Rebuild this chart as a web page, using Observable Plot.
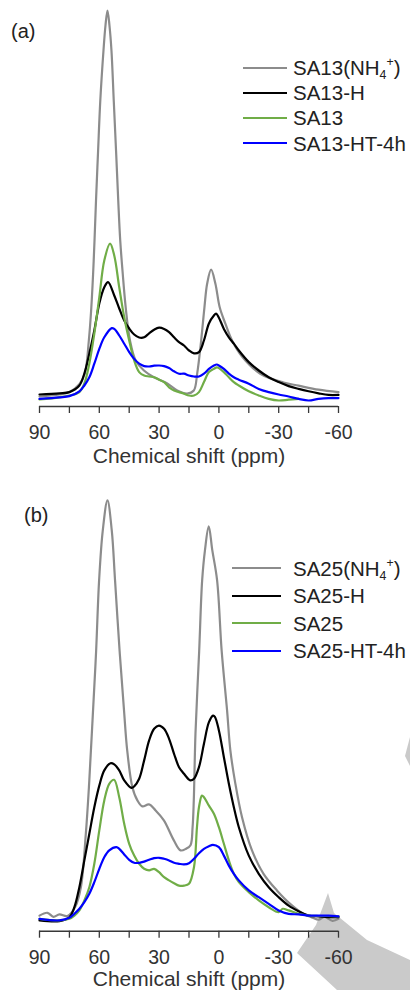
<!DOCTYPE html>
<html>
<head>
<meta charset="utf-8">
<script src="https://cdn.jsdelivr.net/npm/d3@7"></script>
<script src="https://cdn.jsdelivr.net/npm/@observablehq/plot@0.6"></script>
<style>
  html, body { margin: 0; padding: 0; background: #fff; }
  #root { position: relative; width: 410px; height: 990px; overflow: hidden;
          font-family: "Liberation Sans", Arial, sans-serif; }
  .wedge { position: absolute; left: 0; top: 0; width: 410px; height: 990px; background: #cacaca; }
  .panel { position: absolute; left: 0; }
  .tag { position: absolute; font-size: 20px; line-height: 20px; color: #222; }
  .legend { position: absolute; left: 0; top: 0; font-size: 20.5px; color: #222; }
  .row { position: absolute; height: 0; }
  .sw { position: absolute; left: 0; top: -1.2px; height: 0; border-top: 2.4px solid; }
  .lab { position: absolute; top: -9.8px; line-height: 20px; white-space: nowrap; }
  .lab .sub { font-size: 60%; vertical-align: -0.3em; line-height: 0; }
  .lab .sup { font-size: 60%; vertical-align: 0.75em; line-height: 0; }
</style>
</head>
<body>
<div id="root"></div>
<script>
// ---------- data (chemical shift in ppm, intensity in arbitrary units) ----------
const SHIFT_MAJOR = [90, 60, 30, 0, -30, -60];
const SHIFT_MINOR = [75, 45, 15, -15, -45];
const AXIS_TITLE = "Chemical shift (ppm)";
const PANEL_TAGS = ["(a)", "(b)"];

const seriesA = ["SA13(NH4+)", "SA13-H", "SA13", "SA13-HT-4h"];
const seriesB = ["SA25(NH4+)", "SA25-H", "SA25", "SA25-HT-4h"];
const seriesColors = ["#8c8c8c", "#000000", "#70ad47", "#0000ff"];

// panel (a)
const a_nh4 = [[90,2.5],[80,3.0],[75,3.6],[70,5.6],[67.25,8.25],[65.25,16.5],[64,24.75],[63.1,33.25],[62.4,41.5],[61.65,51.5],[60.6,64],[59.5,76.5],[57.9,89],[56.9,95.25],[55.9,99],[54.9,95.25],[53.9,89],[52.75,76.5],[51.6,64],[50.5,51.5],[49.5,41.5],[48.25,33.25],[46.75,24.75],[44.6,16.5],[41.75,11.5],[37.6,9],[32.6,7.3],[25.9,5.75],[20.9,4],[15.9,3.25],[12.6,4],[10.9,8.2],[8.9,16.5],[7.25,24.8],[5.9,30.7],[3.9,34.2],[1.75,30.7],[-0.4,24.8],[-3.25,20.7],[-6.6,16.5],[-11.6,12.5],[-20.75,8.2],[-32.4,6],[-40,5.2],[-50,4.2],[-60,3.6]];
const a_h = [[90,3.0],[80,3.3],[75,3.6],[70,5.25],[67.5,8.25],[65,13.25],[62.5,19],[60,25.75],[57.5,29.8],[55.6,31.1],[52.5,27.75],[50,24.5],[47.5,21.5],[45,19.5],[42.5,18],[40,17.25],[37.5,17.3],[35,18.3],[32.5,19.2],[30,19.7],[27.5,19.4],[25,18.6],[22.5,17.3],[20,16.1],[17.5,15.25],[15,14],[12.5,13.3],[10,13.6],[7.5,16.5],[5,20.75],[2.5,22.75],[1.4,23.2],[0,22.2],[-2.5,19.4],[-5,17.3],[-7.5,15.7],[-10,14],[-15,11.1],[-20,9],[-25,7.3],[-30,6.1],[-35,5.1],[-40,4.4],[-45,3.8],[-50,3.3],[-55,2.9],[-60,2.9]];
const a_na = [[90,1.75],[80,2.3],[75,2.75],[70,3.6],[67.5,5.75],[65,10.75],[62.5,18.25],[60,27.3],[57.5,36.5],[54.6,40.7],[52.5,37.75],[50,29.8],[47.5,22.3],[45,16.5],[42.5,11.5],[40,8.6],[37.5,7.75],[35,7.5],[32.5,7.3],[30,6.7],[27.5,6.1],[25,4.8],[22.5,4],[20,3.6],[17.5,3.2],[15,2.75],[12.5,2.75],[10,3.6],[7.5,6.1],[5,8.6],[2.5,9.4],[1,9.8],[0,9.6],[-2.5,8.6],[-5,7.3],[-7.5,6.1],[-10,5.25],[-15,3.8],[-20,2.75],[-25,1.9],[-30,1.5],[-35,1.7],[-40,1.9]];
const a_ht = [[90,1.9],[80,2.3],[75,2.6],[70,3.8],[67.5,5.25],[65,7.3],[62.5,10.7],[60,14.4],[57.5,17.3],[53.75,19.6],[52.5,19.4],[50,17.75],[47.5,15.7],[45,13.6],[42.5,11.9],[40,10.7],[37.5,10.1],[35,10],[32.5,10.2],[30,10.25],[27.5,10.1],[25,9.6],[22.5,8.8],[20,8.2],[17.5,8.2],[15,7.75],[12.5,7.5],[10,7.5],[7.5,8.2],[5,9.4],[2.5,10.25],[1,10.5],[0,10.25],[-2.5,9.4],[-5,8.2],[-7.5,7.3],[-10,6.7],[-15,5.7],[-20,4.4],[-25,3.6],[-30,3],[-35,2.5],[-40,1.9],[-45,1.5],[-50,1.9],[-55,2.1],[-60,2.1]];

// panel (b)
const b_nh4 = [[90,3.9],[86,4.6],[83,3.6],[80,4.2],[76,3.8],[72,6.2],[69.25,11],[66.75,24.4],[65.1,36.9],[63.4,52.7],[61.6,70],[60.1,87.7],[58.25,100.2],[55.9,107.7],[53.75,100.2],[52.1,87.7],[49.8,70],[47.6,55.2],[46,45.2],[43.4,36],[40.9,32.7],[38.4,31.2],[35.1,31.7],[31.75,30.2],[27.6,27.7],[22.6,22.7],[19.25,20.2],[16.5,20.6],[14.25,21.5],[13.2,26],[12.6,32.7],[11.75,49.4],[9.9,70],[8.4,87.7],[7,95.2],[5.1,101.2],[3.3,95.2],[0.9,87.7],[-1.4,70],[-4.1,55.2],[-5.75,45.2],[-8.25,36.9],[-11.6,28.5],[-16.6,20.2],[-22.4,14.35],[-29.1,10.2],[-35.75,6.85],[-42.4,4.35],[-47,3.4],[-50,2.9],[-53,3.6],[-57,2.6],[-60,3.1]];
const b_h = [[90,2.7],[80,2.5],[75,3.5],[72.5,6],[70,11],[67.5,17.7],[65,24.35],[62.5,31],[60,36.4],[57.5,40.2],[54.4,42],[52.5,41.7],[50,40.2],[47.5,37.7],[43.9,35.85],[42.5,36.2],[40,38.1],[37.5,42.7],[35,47.7],[32.5,50.6],[30.1,51.4],[27.5,50.6],[25,48.1],[22.5,44.35],[20,41],[17.5,39.35],[15,37.9],[14.25,37.7],[12.5,38.1],[10,41],[7.5,46.85],[5,52.25],[2.9,53.9],[2,53.6],[0,50.2],[-2.5,43.5],[-5,36.85],[-7.5,31],[-10,26],[-15,18.9],[-20,14.35],[-25,11],[-30,8.5],[-35,6.4],[-40,5],[-45,3.9],[-50,3.7],[-55,3.5],[-60,3.5]];
const b_na = [[90,3.1],[80,2.7],[75,3.1],[72.5,3.9],[70,5.2],[67.5,7.7],[65,11],[62.5,16.85],[60,25.2],[57.5,32.7],[55,36.85],[52.6,37.85],[50,33.5],[47.5,26.85],[45,21.85],[42.5,18.9],[40,16.85],[37.5,15.6],[35,15.2],[32.5,15.6],[30,14.75],[27.5,13.5],[25,12.7],[22.5,12],[20,11.4],[17.5,11.4],[15,11.85],[12.5,16],[11,26],[10,31],[8.5,33.9],[7.5,33.5],[5,31.4],[2.5,29.35],[0,26],[-2.5,21.85],[-5,17.7],[-7.5,14.35],[-10,12.25],[-15,9.75],[-20,7.7],[-25,6],[-30,4.75],[-32,5.6],[-35,5.2],[-40,4.35],[-45,3.9],[-50,3.8],[-55,3.8],[-60,3.7]];
const b_ht = [[90,3.1],[80,2.7],[75,3.35],[72.5,4.35],[70,5.6],[67.5,7.25],[65,9.35],[62.5,12.25],[60,15.6],[57.5,18.5],[55,20.2],[51.4,21],[50,20.6],[47.5,19.2],[45,17.85],[42.5,17.1],[40,17.1],[37.5,17.4],[35,17.85],[32.5,18.25],[30,18.35],[27.5,18.1],[25,17.7],[22.5,17.1],[20,16.85],[17.5,16.7],[15,17],[12.5,18.1],[10,19.5],[7.5,20.6],[5,21.25],[3,21.6],[0,21],[-2.5,18.9],[-5,16.4],[-7.5,14.35],[-10,12.7],[-15,10.2],[-20,8.5],[-25,6.85],[-30,5.2],[-35,4.35],[-40,4.2],[-45,3.9],[-50,3.9],[-55,3.9],[-60,3.7]];

// ---------- drawing ----------
const FONT = '"Liberation Sans", Arial, sans-serif';
const root = document.getElementById("root");

// light grey wedge (background artefact of the original figure)
const w1 = document.createElement("div");
w1.className = "wedge";
w1.style.clipPath = "polygon(328px 893px, 334px 913px, 367px 940px, 410px 960px, 410px 990px, 337px 990px, 297px 953px, 316px 925px)";
root.appendChild(w1);
const w2 = document.createElement("div");
w2.className = "wedge";
w2.style.clipPath = "polygon(410px 737px, 405px 756px, 410px 766px)";
root.appendChild(w2);

function spectrum(series, curves, opt) {
  const rows = [];
  series.forEach((s, i) => curves[i].forEach(([ppm, v]) => rows.push({series: s, ppm, v})));
  return Plot.plot({
    width: 410,
    height: opt.height,
    marginLeft: 39,
    marginRight: 72,
    marginTop: 0,
    marginBottom: opt.marginBottom,
    style: {background: "transparent", fontFamily: FONT, fontSize: "19.5px", color: "#333", overflow: "visible"},
    x: {domain: [90, -60]},
    y: {domain: [0, opt.ymax], axis: null},
    color: {domain: series, range: seriesColors},
    marks: [
      Plot.ruleY([0], {stroke: "#383838", strokeWidth: 1.4}),
      Plot.axisX({ticks: SHIFT_MINOR, tickSize: 7, tickFormat: () => "", label: null, stroke: "#383838", strokeWidth: 1.3}),
      Plot.axisX({ticks: SHIFT_MAJOR, tickSize: 7, tickPadding: 11.5, tickFormat: d => String(d), label: null,
                  stroke: "#383838", strokeWidth: 1.3, fill: "#333"}),
      Plot.text([AXIS_TITLE], {text: d => d, frameAnchor: "bottom", lineAnchor: "bottom", dy: opt.titleDy, fontSize: 21, fill: "#333"}),
      Plot.line(rows, {x: "ppm", y: "v", z: "series", stroke: "series", strokeWidth: 2.2,
                       curve: "catmull-rom", strokeLinejoin: "round"})
    ]
  });
}

function addPanel(top, series, curves, opt) {
  const div = document.createElement("div");
  div.className = "panel";
  div.style.top = top + "px";
  div.appendChild(spectrum(series, curves, opt));
  root.appendChild(div);
}

addPanel(0, seriesA, [a_nh4, a_h, a_na, a_ht], {height: 470, marginBottom: 64, ymax: 101.5, titleDy: 56.5});
addPanel(480, seriesB, [b_nh4, b_h, b_na, b_ht], {height: 510, marginBottom: 59.3, ymax: 112.675, titleDy: 54.3});

// panel tags
[[PANEL_TAGS[0], 11, 21.3], [PANEL_TAGS[1], 24, 505]].forEach(([t, x, y]) => {
  const d = document.createElement("div");
  d.className = "tag";
  d.style.left = x + "px";
  d.style.top = y + "px";
  d.textContent = t;
  root.appendChild(d);
});

// legends
function labelHTML(s) {
  return s.replace("NH4+", 'NH<span class="sub">4</span><span class="sup">+</span>');
}
function addLegend(series, lineX0, lineX1, textX, y0, dy) {
  const lg = document.createElement("div");
  lg.className = "legend";
  series.forEach((s, i) => {
    const r = document.createElement("div");
    r.className = "row";
    r.style.left = lineX0 + "px";
    r.style.top = (y0 + i * dy) + "px";
    const sw = document.createElement("div");
    sw.className = "sw";
    sw.style.width = (lineX1 - lineX0) + "px";
    sw.style.borderTopColor = seriesColors[i];
    const lab = document.createElement("div");
    lab.className = "lab";
    lab.style.left = (textX - lineX0) + "px";
    lab.innerHTML = labelHTML(s);
    r.appendChild(sw);
    r.appendChild(lab);
    lg.appendChild(r);
  });
  root.appendChild(lg);
}
addLegend(seriesA, 243, 287, 293, 67.7, 25.2);
addLegend(seriesB, 232, 281, 293, 568.3, 27.6);
</script>
</body>
</html>
